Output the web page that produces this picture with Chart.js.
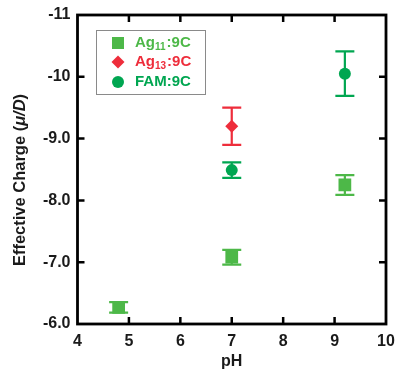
<!DOCTYPE html>
<html>
<head>
<meta charset="utf-8">
<script src="https://cdn.jsdelivr.net/npm/chart.js@4.4.1/dist/chart.umd.min.js"></script>
<style>
  html, body { margin: 0; padding: 0; background: #ffffff; }
  #wrap { width: 398px; height: 370px; position: relative; }
</style>
</head>
<body>
<div id="wrap"><canvas id="c" width="398" height="370"></canvas></div>
<script>
// ---- Data ----
const phAg11 = [4.8, 7.0, 9.2];
const chargeAg11 = [-6.27, -7.08, -8.25];
const errAg11 = [0.085, 0.12, 0.16];

const phAg13 = [7.0];
const chargeAg13 = [-9.20];
const errAg13 = [0.30];

const phFAM = [7.0, 9.2];
const chargeFAM = [-8.49, -10.05];
const errFAM = [0.125, 0.36];

const xTickLabels = ['4', '5', '6', '7', '8', '9', '10'];
const yTickLabels = ['-11', '-10', '-9.0', '-8.0', '-7.0', '-6.0'];
const yTickValues = [-11, -10, -9, -8, -7, -6];

const colAg11 = '#4db848';
const colAg13 = '#ee2d3b';
const colFAM = '#00a651';

const FONT = '"Liberation Sans", Arial, Helvetica, sans-serif';

function pts(xs, ys) { return xs.map((x, i) => ({ x: x, y: ys[i] })); }

const errorBars = {
  id: 'errorBars',
  beforeDatasetsDraw(chart) {
    const ctx = chart.ctx;
    const xs = chart.scales.x, ys = chart.scales.y;
    chart.data.datasets.forEach(ds => {
      ctx.save();
      ctx.strokeStyle = ds.borderColor;
      ctx.lineWidth = 2.2;
      ds.data.forEach((p, i) => {
        const e = ds.errors[i];
        const px = xs.getPixelForValue(p.x);
        const y1 = ys.getPixelForValue(p.y - e);
        const y2 = ys.getPixelForValue(p.y + e);
        ctx.beginPath();
        ctx.moveTo(px, y1); ctx.lineTo(px, y2);
        ctx.moveTo(px - 9.5, y1); ctx.lineTo(px + 9.5, y1);
        ctx.moveTo(px - 9.5, y2); ctx.lineTo(px + 9.5, y2);
        ctx.stroke();
      });
      ctx.restore();
    });
  }
};

const frame = {
  id: 'frame',
  afterDraw(chart) {
    const ctx = chart.ctx;
    const a = chart.chartArea;
    const xs = chart.scales.x, ys = chart.scales.y;
    ctx.save();
    ctx.strokeStyle = '#000';
    ctx.lineWidth = 2.8;
    ctx.strokeRect(a.left, a.top, a.right - a.left, a.bottom - a.top);
    const tl = 7;
    ctx.lineWidth = 2.5;
    ctx.beginPath();
    for (let v = 5; v <= 9; v++) {
      const px = xs.getPixelForValue(v);
      ctx.moveTo(px, a.bottom); ctx.lineTo(px, a.bottom - tl);
      ctx.moveTo(px, a.top); ctx.lineTo(px, a.top + tl);
    }
    for (let v = -10; v <= -7; v++) {
      const py = ys.getPixelForValue(v);
      ctx.moveTo(a.left, py); ctx.lineTo(a.left + tl, py);
      ctx.moveTo(a.right, py); ctx.lineTo(a.right - tl, py);
    }
    ctx.stroke();

    // axis titles
    ctx.fillStyle = '#1a1a1a';
    ctx.font = 'bold 16px ' + FONT;
    ctx.textAlign = 'center';
    ctx.textBaseline = 'middle';
    ctx.fillText('pH', (a.left + a.right) / 2, 362);

    // y title with italic μ/D
    ctx.save();
    ctx.translate(20, 180);
    ctx.rotate(-Math.PI / 2);
    const parts = [
      { t: 'Effective Charge (', f: 'bold 16.5px ' + FONT },
      { t: 'μ/D', f: 'italic bold 16.5px ' + FONT },
      { t: ')', f: 'bold 16.5px ' + FONT }
    ];
    let total = 0;
    parts.forEach(p => { ctx.font = p.f; p.w = ctx.measureText(p.t).width; total += p.w; });
    let x = -total / 2;
    ctx.textAlign = 'left';
    parts.forEach(p => { ctx.font = p.f; ctx.fillText(p.t, x, 0); x += p.w; });
    ctx.restore();

    // legend
    const lx = 96, ly = 30, lw = 109, lh = 64;
    ctx.fillStyle = '#fff';
    ctx.fillRect(lx, ly, lw, lh);
    ctx.strokeStyle = '#8a8a8a';
    ctx.lineWidth = 1;
    ctx.strokeRect(lx + 0.5, ly + 0.5, lw, lh);
    const rows = [
      { col: colAg11, base: 'Ag', sub: '11', rest: ':9C', shape: 'sq', y: 43 },
      { col: colAg13, base: 'Ag', sub: '13', rest: ':9C', shape: 'di', y: 62 },
      { col: colFAM, base: 'FAM:9C', sub: '', rest: '', shape: 'ci', y: 82 }
    ];
    rows.forEach(r => {
      ctx.fillStyle = r.col;
      const mx = 118;
      ctx.beginPath();
      if (r.shape === 'sq') ctx.rect(mx - 6, r.y - 6, 12, 12);
      else if (r.shape === 'di') { ctx.moveTo(mx, r.y - 6.5); ctx.lineTo(mx + 6.5, r.y); ctx.lineTo(mx, r.y + 6.5); ctx.lineTo(mx - 6.5, r.y); ctx.closePath(); }
      else ctx.arc(mx, r.y, 6, 0, Math.PI * 2);
      ctx.fill();
      ctx.textAlign = 'left';
      ctx.textBaseline = 'middle';
      let tx = 135;
      ctx.font = 'bold 15px ' + FONT;
      ctx.fillText(r.base, tx, r.y);
      tx += ctx.measureText(r.base).width;
      if (r.sub) {
        ctx.font = 'bold 10px ' + FONT;
        ctx.fillText(r.sub, tx, r.y + 4);
        tx += ctx.measureText(r.sub).width + 1;
        ctx.font = 'bold 15px ' + FONT;
        ctx.fillText(r.rest, tx, r.y);
      }
    });
    ctx.restore();
  }
};

new Chart(document.getElementById('c'), {
  type: 'scatter',
  data: {
    datasets: [
      { label: 'Ag11:9C', data: pts(phAg11, chargeAg11), errors: errAg11,
        backgroundColor: colAg11, borderColor: colAg11, pointStyle: 'rect', pointRadius: 9, pointBorderWidth: 0 },
      { label: 'Ag13:9C', data: pts(phAg13, chargeAg13), errors: errAg13,
        backgroundColor: colAg13, borderColor: colAg13, pointStyle: 'rectRot', pointRadius: 6.5, pointBorderWidth: 0 },
      { label: 'FAM:9C', data: pts(phFAM, chargeFAM), errors: errFAM,
        backgroundColor: colFAM, borderColor: colFAM, pointStyle: 'circle', pointRadius: 6, pointBorderWidth: 0 }
    ]
  },
  options: {
    responsive: false,
    animation: false,
    devicePixelRatio: 1,
    layout: { padding: { left: 0, top: 15, right: 12, bottom: 0 } },
    plugins: { legend: { display: false }, tooltip: { enabled: false } },
    scales: {
      x: {
        type: 'linear', min: 4, max: 10,
        afterFit(s) { s.height = 46; s.paddingLeft = 0; s.paddingRight = 0; },
        afterBuildTicks(s) { s.ticks = xTickLabels.map(t => ({ value: Number(t) })); },
        grid: { display: false, drawTicks: false },
        border: { display: false },
        ticks: {
          padding: 8, color: '#1a1a1a',
          font: { family: FONT, size: 16, weight: 'bold' },
          callback: (v) => xTickLabels[xTickLabels.indexOf(String(v))] ?? ''
        }
      },
      y: {
        type: 'linear', min: -11, max: -6, reverse: true,
        afterFit(s) { s.width = 77.5; s.paddingTop = 0; s.paddingBottom = 0; },
        afterBuildTicks(s) { s.ticks = yTickValues.map(v => ({ value: v })); },
        grid: { display: false, drawTicks: false },
        border: { display: false },
        ticks: {
          padding: 7, color: '#1a1a1a',
          font: { family: FONT, size: 16, weight: 'bold' },
          callback: (v) => { const i = yTickValues.indexOf(v); return i >= 0 ? yTickLabels[i] : ''; }
        }
      }
    }
  },
  plugins: [errorBars, frame]
});
</script>
</body>
</html>
